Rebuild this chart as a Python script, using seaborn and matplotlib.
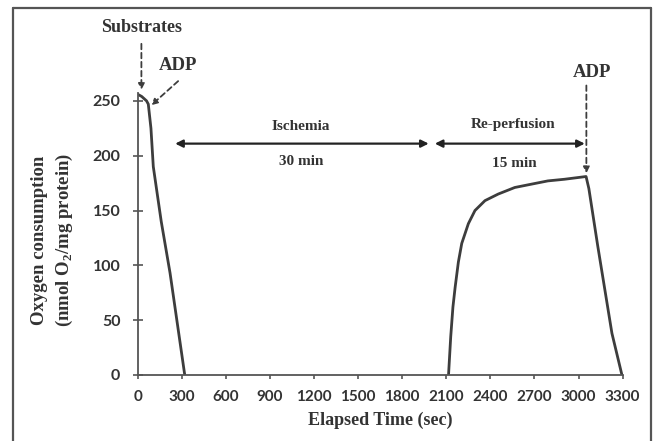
import numpy as np
import pandas as pd
import seaborn as sns
import matplotlib.pyplot as plt
from matplotlib.lines import Line2D

# initial run: substrates + ADP, then drops to anoxia
t_start = [0, 27, 60, 72, 90, 106, 160, 220, 320]
o2_start = [256, 254, 250, 247, 225, 190, 140, 93, 0]

# re-perfusion phase, ADP added at the end
t_reperf = [2115, 2130, 2145, 2160, 2182, 2205, 2250, 2295, 2363, 2453, 2566,
            2678, 2791, 2904, 3051, 3070, 3130, 3227, 3295]
o2_reperf = [0, 35, 62, 80, 103, 120, 138, 150, 159, 165, 171,
             174, 177, 178.5, 181, 170, 118, 38, 0]

x_ticks = list(range(0, 3301, 300))
y_ticks = [0, 50, 100, 150, 200, 250]

df1 = pd.DataFrame({"time": t_start, "o2": o2_start})
df2 = pd.DataFrame({"time": t_reperf, "o2": o2_reperf})

sns.set_style("ticks")
plt.rcParams['font.family'] = ['Lato', 'DejaVu Sans']

line_col = "#3d3d3d"
txt_col = "#333333"
serif = ['Liberation Serif', 'DejaVu Serif']

fig = plt.figure(figsize=(6.58, 4.41), dpi=100)
ax = fig.add_axes([0.2093, 0.1497, 0.737, 0.639])

sns.lineplot(data=df1, x="time", y="o2", ax=ax, color=line_col, lw=2)
sns.lineplot(data=df2, x="time", y="o2", ax=ax, color=line_col, lw=2)

ax.set_xlim(0, 3300)
ax.set_ylim(0, 257)
ax.set_xticks(x_ticks)
ax.set_yticks(y_ticks)
sns.despine(ax=ax)
for s in ["left", "bottom"]:
    ax.spines[s].set_color("#555555")
    ax.spines[s].set_linewidth(1.3)

ax.tick_params(axis="x", direction="out", length=3, width=1.2, color="#555555",
               pad=8, labelsize=11, labelcolor=txt_col)
ax.tick_params(axis="y", direction="inout", length=7, width=1.2, color="#555555",
               pad=9, labelsize=11.5, labelcolor=txt_col)
for lab in ax.get_xticklabels() + ax.get_yticklabels():
    lab.set_fontweight("bold")

ax.set_xlabel("Elapsed Time (sec)", family=serif, fontweight="bold",
              fontsize=13, color=txt_col, labelpad=5)
ax.set_ylabel("")
fig.text(0.08, 0.455, "Oxygen consumption\n(nmol O$_\\mathregular{2}$/mg protein)",
         rotation=90, ha="center", va="center", family=serif,
         fontweight="bold", fontsize=13.5, color=txt_col, linespacing=1.4)

# dashed arrows for additions
dash = dict(arrowstyle="-|>", color=line_col, lw=1.3, linestyle=(0, (3, 2)),
            mutation_scale=9, shrinkA=0, shrinkB=0)
ax.annotate("", xy=(25, 260), xytext=(25, 302), xycoords="data",
            arrowprops=dash, annotation_clip=False)
ax.text(27, 317, "Substrates", family=serif, fontweight="bold", fontsize=13,
        ha="center", va="center", color=txt_col, clip_on=False)
ax.annotate("", xy=(92, 246), xytext=(275, 268), arrowprops=dash,
            annotation_clip=False)
ax.text(275, 282, "ADP", family=serif, fontweight="bold", fontsize=13.5,
        ha="center", va="center", color=txt_col, clip_on=False)
ax.annotate("", xy=(3053, 184), xytext=(3053, 264), arrowprops=dash,
            annotation_clip=False)
ax.text(3090, 276, "ADP", family=serif, fontweight="bold", fontsize=13.5,
        ha="center", va="center", color=txt_col, clip_on=False)

# period arrows
dbl = dict(arrowstyle="<|-|>", color="#222222", lw=1.6, mutation_scale=11,
           shrinkA=0, shrinkB=0)
ax.annotate("", xy=(255, 211), xytext=(1980, 211), arrowprops=dbl)
ax.annotate("", xy=(2022, 211), xytext=(3042, 211), arrowprops=dbl)
ax.text(1112, 227, "Ischemia", family=serif, fontweight="bold", fontsize=11,
        ha="center", va="center", color=txt_col)
ax.text(1112, 195, "30 min", family=serif, fontweight="bold", fontsize=11,
        ha="center", va="center", color=txt_col)
ax.text(2555, 228, "Re-perfusion", family=serif, fontweight="bold", fontsize=11,
        ha="center", va="center", color=txt_col)
ax.text(2566, 193, "15 min", family=serif, fontweight="bold", fontsize=11,
        ha="center", va="center", color=txt_col)

# frame around the figure (open at the bottom)
x0, x1, y1 = 12.5 / 658, 651 / 658, 1 - 8 / 441
for xs, ys in [([x0, x0], [-0.05, y1]), ([x0, x1], [y1, y1]), ([x1, x1], [y1, -0.05])]:
    fig.add_artist(Line2D(xs, ys, transform=fig.transFigure, color="#555555", lw=1.6))

fig.savefig("out.png", dpi=100)
